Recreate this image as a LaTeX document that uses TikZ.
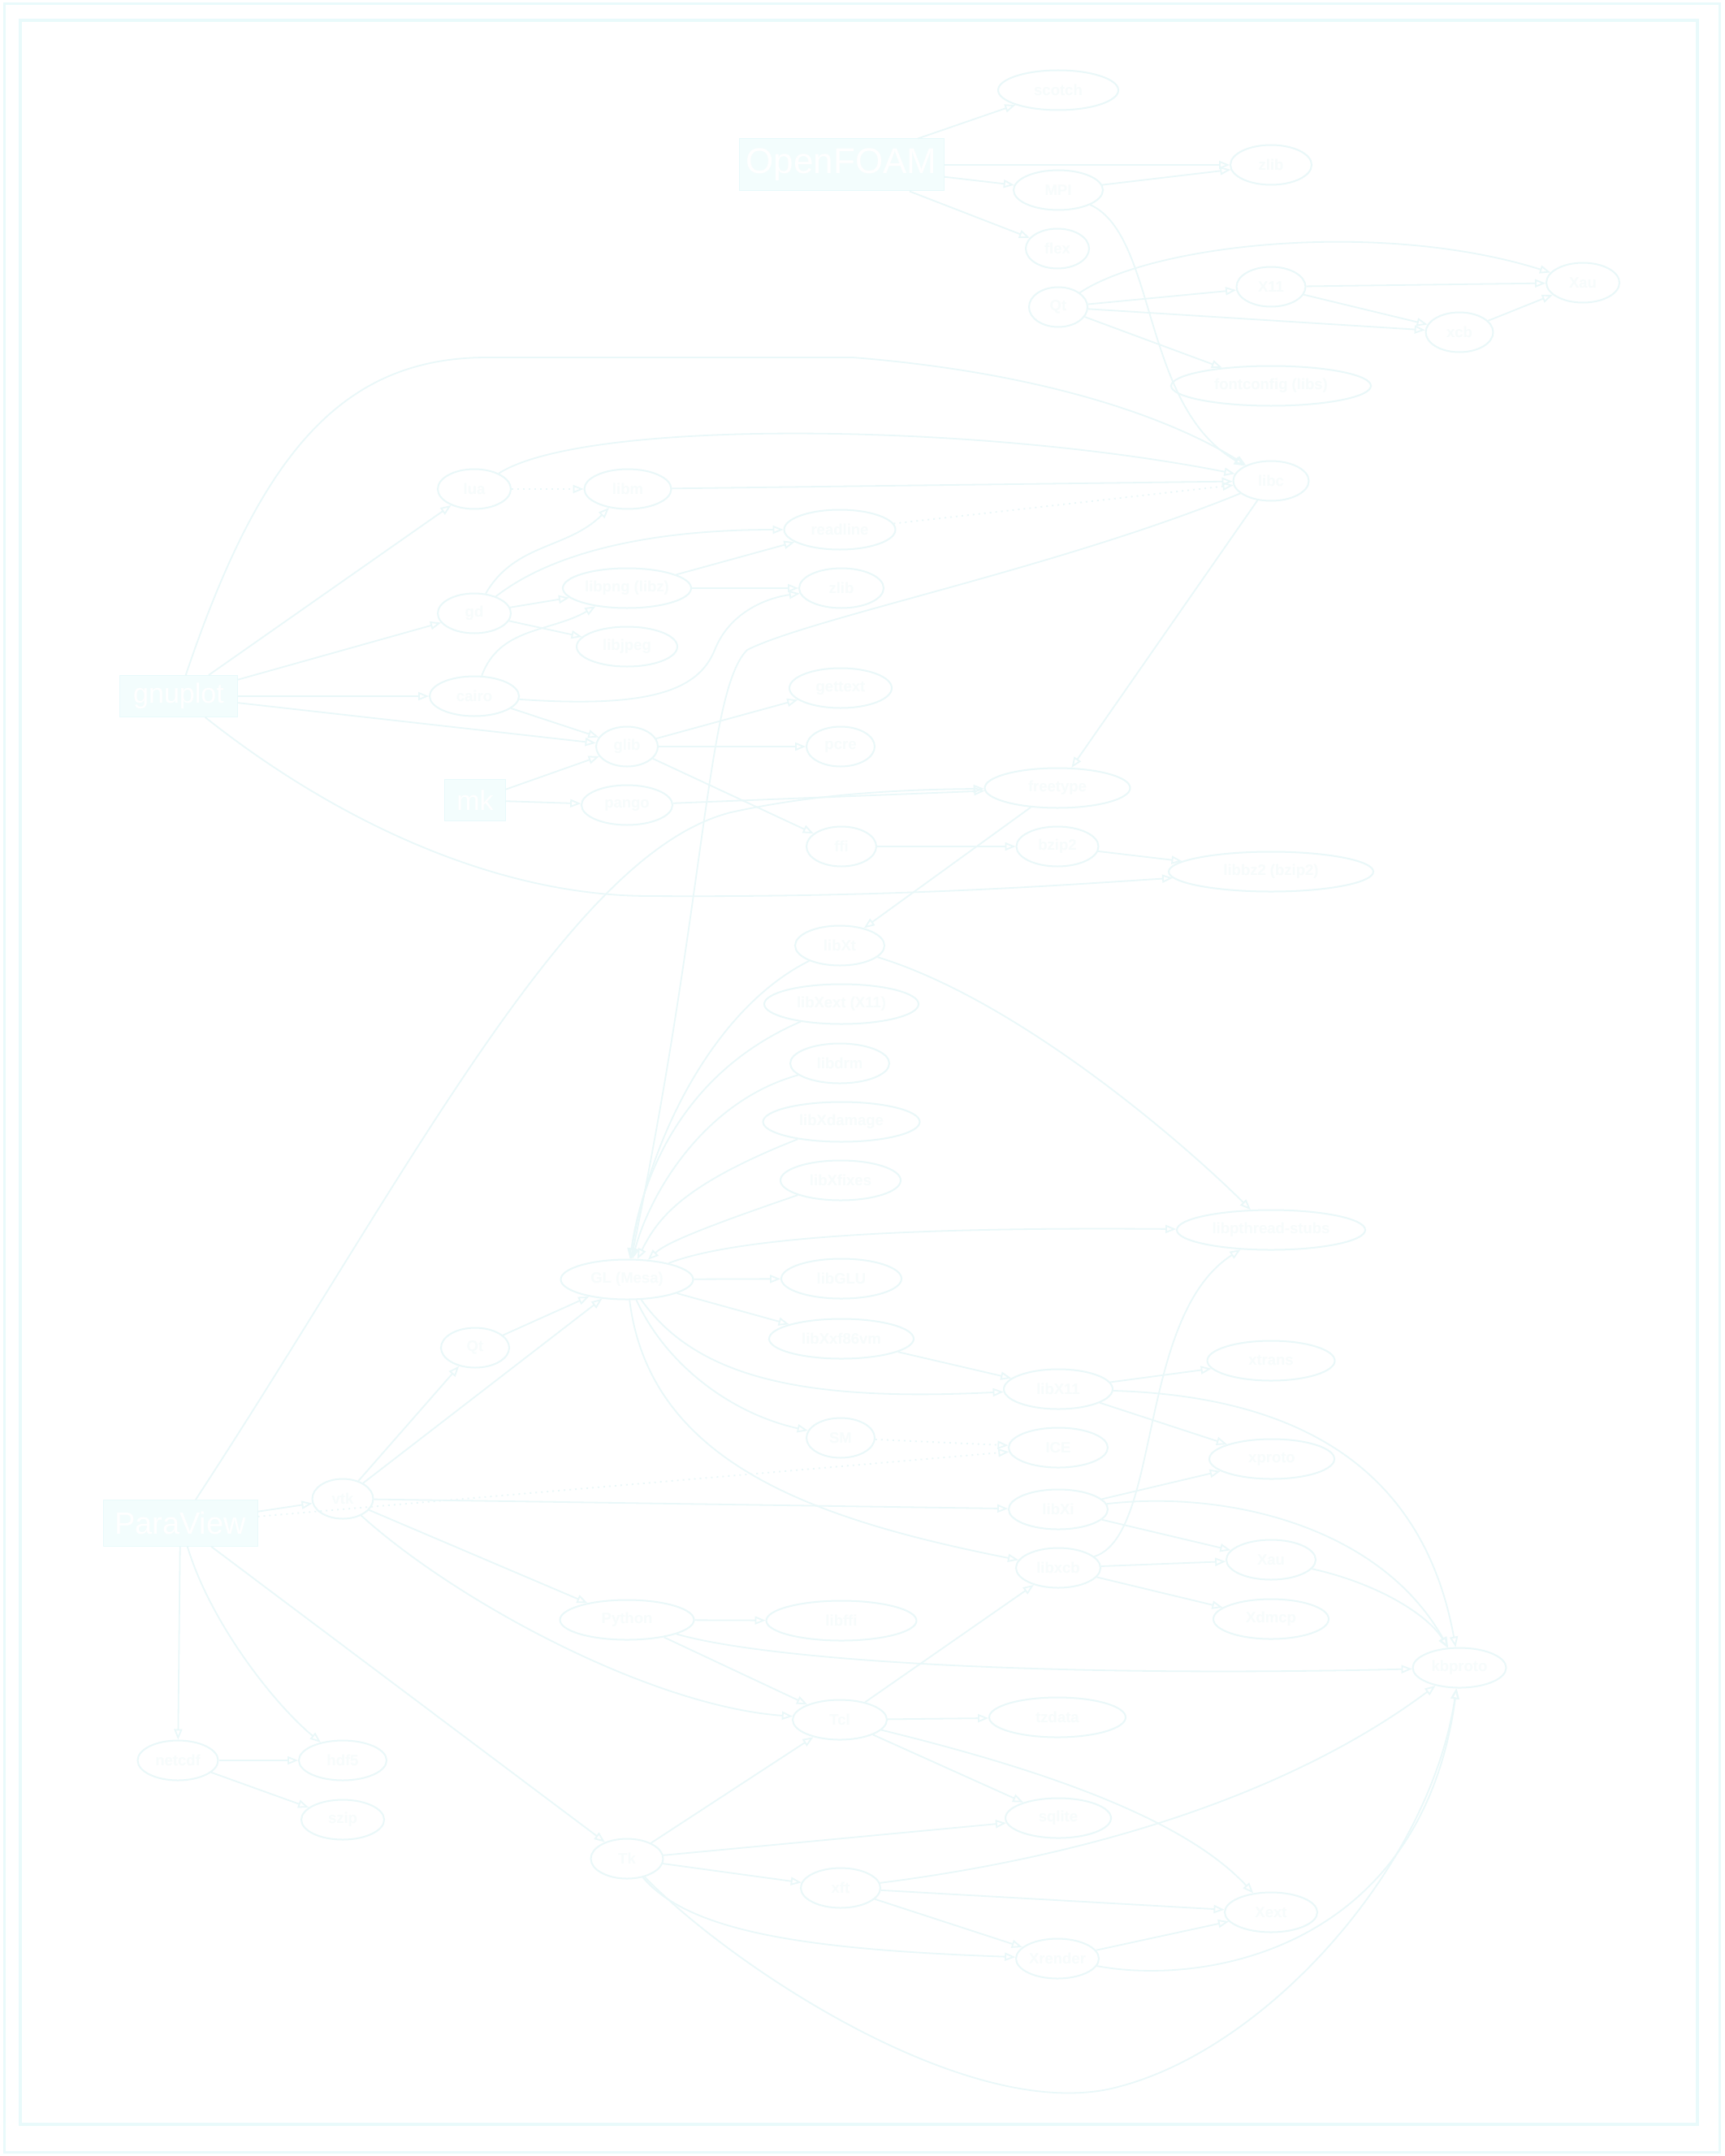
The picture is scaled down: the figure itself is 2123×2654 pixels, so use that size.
\documentclass[tikz,border=0pt]{standalone}
\usepackage{fontspec}
\setmainfont{Liberation Sans}
\usetikzlibrary{shapes.geometric,arrows.meta}
\definecolor{linecol}{RGB}{234,248,249}
\definecolor{textcol}{RGB}{247,252,252}
\definecolor{boxfill}{RGB}{243,253,253}
\definecolor{framecol}{RGB}{233,250,251}
\tikzset{
  el/.style={ellipse, draw=linecol, line width=2pt, inner sep=0pt, minimum height=49pt,
             font=\bfseries\fontsize{18.5}{20}\selectfont, text=textcol},
  bx/.style={rectangle, draw=framecol, line width=1pt, fill=boxfill, inner sep=0pt, text=white},
  ed/.style={draw=linecol, line width=1.8pt, -{Triangle[open,length=13pt,width=10pt]}},
  dt/.style={ed, dash pattern=on 2pt off 5pt},
}
\begin{document}
\begin{tikzpicture}[x=1pt,y=-1pt]
\useasboundingbox (0,0) rectangle (2123,2654);
\fill[white] (0,0) rectangle (2123,2654);
\draw[framecol, line width=3pt] (5,5) rectangle (2117,2649);
\draw[framecol, line width=4pt] (25,25) rectangle (2090,2615);

% boxes
\node[bx, minimum width=252pt, minimum height=64pt, font=\fontsize{44}{46}\selectfont] (OF) at (1036,203) {OpenFOAM};
\node[bx, minimum width=145pt, minimum height=51pt, font=\fontsize{34}{36}\selectfont] (GP) at (220,857) {gnuplot};
\node[bx, minimum width=75pt, minimum height=51pt, font=\fontsize{34}{36}\selectfont] (MK) at (585,985) {mk};
\node[bx, minimum width=190pt, minimum height=57pt, font=\fontsize{38}{40}\selectfont] (PV) at (222,1875) {ParaView};

% column 1302 (top)
\node[el, minimum width=148pt] (b0) at (1303,111) {scotch};
\node[el, minimum width=110pt] (b1) at (1303,234) {MPI};
\node[el, minimum width=78pt]  (b2) at (1302,306) {flex};
\node[el, minimum width=72pt]  (b3) at (1303,378) {Qt};
% column 1565 (top)
\node[el, minimum width=100pt] (c1) at (1565,203) {zlib};
\node[el, minimum width=85pt]  (c2) at (1565,353) {X11};
\node[el, minimum width=246pt] (c3) at (1565,475) {fontconfig (libs)};
\node[el, minimum width=93pt]  (c4) at (1565,592) {libc};
\node[el, minimum width=83pt]  (d1) at (1797,409) {xcb};
\node[el, minimum width=90pt]  (e1) at (1949,348) {Xau};

% column 585
\node[el, minimum width=90pt]  (g1) at (584,602) {lua};
\node[el, minimum width=90pt]  (g2) at (584,755) {gd};
\node[el, minimum width=110pt] (g3) at (584,857) {cairo};
\node[el, minimum width=84pt]  (g4) at (585,1659) {Qt};
% column 772
\node[el, minimum width=107pt] (f1) at (773,602) {libm};
\node[el, minimum width=158pt] (f2) at (772,724) {libpng (libz)};
\node[el, minimum width=124pt] (f3) at (772,796) {libjpeg};
\node[el, minimum width=76pt]  (f4) at (772,919) {glib};
\node[el, minimum width=112pt] (f5) at (772,991) {pango};
\node[el, minimum width=163pt] (f6) at (772,1575) {GL (Mesa)};
\node[el, minimum width=165pt] (f7) at (772,1994) {Python};
\node[el, minimum width=89pt]  (f8) at (772,2288) {Tk};
% column 1036
\node[el, minimum width=137pt] (a1) at (1034,652) {readline};
\node[el, minimum width=104pt] (a2) at (1036,724) {zlib};
\node[el, minimum width=126pt] (a3) at (1035,847) {gettext};
\node[el, minimum width=84pt]  (a4) at (1035,919) {pcre};
\node[el, minimum width=86pt]  (a5) at (1036,1042) {ffi};
\node[el, minimum width=110pt] (a6) at (1034,1164) {libXt};
\node[el, minimum width=190pt] (a7) at (1036,1236) {libXext (X11)};
\node[el, minimum width=122pt] (a8) at (1034,1309) {libdrm};
\node[el, minimum width=193pt] (a9) at (1036,1381) {libXdamage};
\node[el, minimum width=148pt] (a10) at (1035,1453) {libXfixes};
\node[el, minimum width=148pt] (a11) at (1036,1574) {libGLU};
\node[el, minimum width=178pt] (a12) at (1036,1648) {libXxf86vm};
\node[el, minimum width=84pt]  (a13) at (1035,1770) {SM};
\node[el, minimum width=185pt] (a14) at (1036,1995) {libffi};
\node[el, minimum width=116pt] (a15) at (1034,2117) {Tcl};
\node[el, minimum width=98pt]  (a16) at (1035,2324) {xft};
% column 1302 (lower)
\node[el, minimum width=179pt] (b4) at (1302,970) {freetype};
\node[el, minimum width=101pt] (b5) at (1302,1042) {bzip2};
\node[el, minimum width=134pt] (b6) at (1303,1710) {libX11};
\node[el, minimum width=122pt] (b7) at (1303,1782) {ICE};
\node[el, minimum width=122pt] (b8) at (1303,1858) {libXi};
\node[el, minimum width=104pt] (b9) at (1303,1930) {libxcb};
\node[el, minimum width=168pt] (b10) at (1302,2114) {tzdata};
\node[el, minimum width=130pt] (b11) at (1303,2238) {sqlite};
\node[el, minimum width=102pt] (b12) at (1302,2411) {Xrender};
% column 1565 (lower)
\node[el, minimum width=252pt] (c5) at (1565,1073) {libbz2 (bzip2)};
\node[el, minimum width=232pt] (c6) at (1565,1514) {libpthread-stubs};
\node[el, minimum width=157pt] (c7) at (1565,1675) {xtrans};
\node[el, minimum width=154pt] (c8) at (1566,1796) {xproto};
\node[el, minimum width=110pt] (c9) at (1565,1920) {Xau};
\node[el, minimum width=142pt] (c10) at (1565,1993) {Xdmcp};
\node[el, minimum width=114pt] (c11) at (1565,2354) {Xext};
\node[el, minimum width=115pt] (d2) at (1797,2053) {kbproto};
% column 422 / 219
\node[el, minimum width=75pt]  (h1) at (422,1845) {vtk};
\node[el, minimum width=108pt] (h2) at (422,2167) {hdf5};
\node[el, minimum width=102pt] (h3) at (422,2240) {szip};
\node[el, minimum width=99pt]  (i1) at (219,2167) {netcdf};

% ---- edges top
\draw[ed] (OF) -- (b0);
\draw[ed] (OF) -- (c1);
\draw[ed] (OF) -- (b1);
\draw[ed] (OF) -- (b2);
\draw[ed] (b1) -- (c1);
\draw[ed] (b1) .. controls (1425,290) and (1405,500) .. (c4);
\draw[ed] (b3) -- (c2);
\draw[ed] (b3) -- (d1);
\draw[ed] (b3) -- (c3);
\draw[ed] (b3) .. controls (1420,300) and (1700,270) .. (e1);
\draw[ed] (c2) -- (e1);
\draw[ed] (c2) -- (d1);
\draw[ed] (d1) -- (e1);
% into c4
\draw[ed] (g1) .. controls (720,515) and (1200,520) .. (c4);
\draw[ed] (f1) -- (c4);
\draw[dt] (a1) -- (c4);
\draw[ed] (GP) .. controls (320,560) and (420,440) .. (600,440) -- (1050,440) .. controls (1300,460) and (1450,520) .. (c4);
\draw[ed] (c4) -- (b4);
\draw[ed] (c4) .. controls (1300,700) and (1000,760) .. (920,800) .. controls (870,850) and (870,1100) .. (f6);
% gnuplot
\draw[ed] (GP) -- (g1);
\draw[ed] (GP) -- (g2);
\draw[ed] (GP) -- (g3);
\draw[ed] (GP) -- (f4);
\draw[ed] (GP) .. controls (400,1000) and (600,1103) .. (800,1103) .. controls (1100,1105) and (1300,1090) .. (c5);
% columns 585/772
\draw[dt] (g1) -- (f1);
\draw[ed] (g2) to[out=60,in=-135] (f1);
\draw[ed] (g2) -- (f2);
\draw[ed] (g2) -- (f3);
\draw[ed] (g2) .. controls (680,680) and (800,652) .. (a1);
\draw[ed] (g3) to[out=70,in=-150] (f2);
\draw[ed] (g3) -- (f4);
\draw[ed] (g3) .. controls (800,872) and (860,850) .. (880,800) .. controls (900,750) and (950,735) .. (a2);
\draw[ed] (f2) -- (a1);
\draw[ed] (f2) -- (a2);
\draw[ed] (f4) -- (a3);
\draw[ed] (f4) -- (a4);
\draw[ed] (f4) -- (a5);
\draw[ed] (MK) -- (f4);
\draw[ed] (MK) -- (f5);
\draw[ed] (PV) .. controls (500,1450) and (700,1050) .. (900,1000) .. controls (1000,978) and (1100,972) .. (b4);
\draw[ed] (f5) -- (b4);
\draw[ed] (b4) -- (a6);
\draw[ed] (a5) -- (b5);
\draw[ed] (b5) -- (c5);
% middle
\draw[ed] (a6) .. controls (1250,1230) and (1450,1400) .. (c6);
\draw[ed] (a6) .. controls (880,1241) and (800,1400) .. (f6);
\draw[ed] (a7) .. controls (839,1321) and (790,1450) .. (f6);
\draw[ed] (a8) .. controls (866,1356) and (800,1470) .. (f6);
\draw[ed] (a9) .. controls (839,1459) and (810,1500) .. (f6);
\draw[ed] (a10) .. controls (866,1511) and (820,1530) .. (f6);
\draw[ed] (f6) -- (a11);
\draw[ed] (f6) -- (a12);
\draw[ed] (f6) .. controls (900,1525) and (1100,1510) .. (c6);
\draw[ed] (f6) .. controls (860,1700) and (1000,1725) .. (b6);
\draw[ed] (f6) .. controls (820,1680) and (900,1740) .. (a13);
\draw[ed] (f6) .. controls (800,1800) and (1000,1870) .. (b9);
\draw[ed] (g4) -- (f6);
\draw[ed] (h1) -- (g4);
\draw[ed] (h1) -- (f6);
\draw[ed] (a12) -- (b6);
\draw[ed] (b6) -- (c7);
\draw[ed] (b6) -- (c8);
\draw[ed] (b6) .. controls (1650,1720) and (1760,1850) .. (d2);
\draw[dt] (a13) -- (b7);
\draw[dt] (PV) -- (b7);
\draw[ed] (h1) -- (b8);
\draw[ed] (b8) -- (c8);
\draw[ed] (b8) .. controls (1513,1834) and (1700,1880) .. (d2);
\draw[ed] (b8) -- (c9);
\draw[ed] (b9) -- (c9);
\draw[ed] (b9) -- (c10);
\draw[ed] (b9) .. controls (1430,1890) and (1400,1620) .. (c6);
\draw[ed] (c9) .. controls (1700,1950) and (1760,1990) .. (d2);
% lower
\draw[ed] (f7) -- (a14);
\draw[ed] (f7) .. controls (950,2045) and (1300,2065) .. (d2);
\draw[ed] (f7) -- (a15);
\draw[ed] (h1) -- (f7);
\draw[ed] (h1) .. controls (560,1970) and (800,2100) .. (a15);
\draw[ed] (PV) -- (h1);
\draw[ed] (PV) -- (i1);
\draw[ed] (PV) .. controls (260,2000) and (340,2100) .. (h2);
\draw[ed] (PV) -- (f8);
\draw[ed] (i1) -- (h2);
\draw[ed] (i1) -- (h3);
\draw[ed] (f8) -- (a15);
\draw[ed] (f8) -- (b11);
\draw[ed] (f8) -- (a16);
\draw[ed] (f8) .. controls (850,2380) and (1000,2400) .. (b12);
\draw[ed] (f8) .. controls (900,2420) and (1200,2620) .. (1380,2568) .. controls (1560,2520) and (1760,2300) .. (d2);
\draw[ed] (a15) -- (b10);
\draw[ed] (a15) -- (b9);
\draw[ed] (a15) -- (b11);
\draw[ed] (a15) .. controls (1250,2170) and (1450,2230) .. (c11);
\draw[ed] (a16) -- (c11);
\draw[ed] (a16) -- (b12);
\draw[ed] (a16) .. controls (1365,2282) and (1600,2200) .. (d2);
\draw[ed] (b12) -- (c11);
\draw[ed] (b12) .. controls (1484,2445) and (1750,2400) .. (d2);
\end{tikzpicture}
\end{document}
